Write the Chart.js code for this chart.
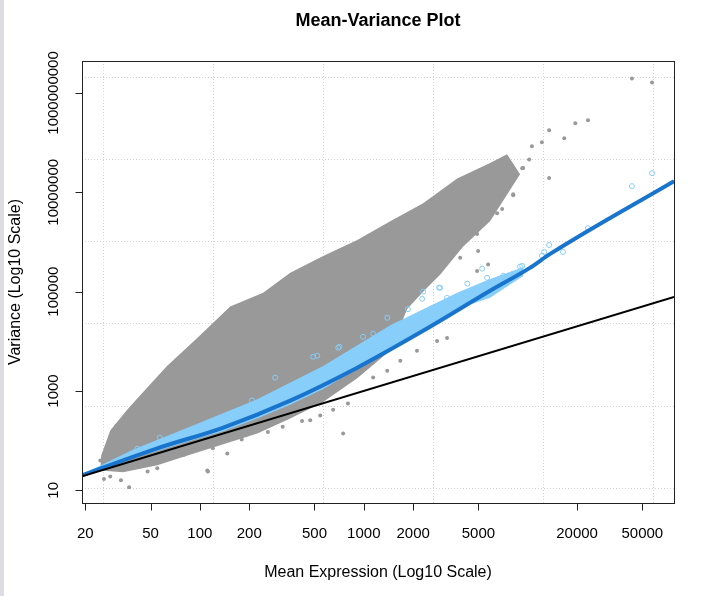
<!DOCTYPE html>
<html>
<head>
<meta charset="utf-8">
<script src="https://cdn.jsdelivr.net/npm/chart.js@4.4.1/dist/chart.umd.min.js"></script>
<style>
  html, body { margin: 0; padding: 0; background: #fff; }
  body { width: 708px; height: 596px; overflow: hidden; border-left: 4px solid #dcdde3; box-sizing: border-box; }
  #wrap { position: absolute; left: 0; top: 0; width: 708px; height: 596px; }
</style>
</head>
<body>
<div id="wrap"><canvas id="mv-chart"></canvas></div>
<script>
// Axis ranges (log10 scale)
const xRange = [19.1, 78000];
const yRange = [5.56, 4.4e9];
const xTickValues = [20, 50, 100, 200, 500, 1000, 2000, 5000, 20000, 50000];
const yTickValues = [10, 1000, 100000, 10000000, 1000000000];
const xGridLog = [1.411, 2.082, 2.752, 3.423, 4.094, 4.765];
const yGridLog = [1.04, 2.70, 4.36, 6.01, 7.67, 9.33];

// Dense gray cloud outline (mean, variance)
const cloudX = [25, 28.4, 36, 43, 63, 96, 153, 243, 356, 565, 912, 1450, 2300, 3710, 5890, 7480,
                8980, 5890, 4030, 2920, 2300, 1840,
                1450, 912, 565, 356, 224, 139, 87, 55, 34, 24.7];
const cloudY = [50, 160, 420, 800, 3200, 11500, 50000, 95000, 240000, 520000, 1.1e6, 2.6e6, 6e6, 1.9e7, 3.9e7, 5.85e7,
                2.32e7, 2.6e6, 8e5, 2.2e5, 1e5, 45000,
                6500, 1800, 600, 280, 140, 85, 52, 32, 23, 25];

// Light blue band outline
const bandX = [21.4, 39, 87, 224, 565, 1450, 3710, 5890, 9380,
               9380, 5890, 3710, 2300, 1450, 912, 565, 356, 224, 139, 87, 55, 34, 21.4];
const bandY = [25, 66, 190, 680, 3200, 21000, 95000, 180000, 310000,
               207000, 75200, 45000, 16000, 7000, 2800, 1100, 530, 280, 155, 98, 62, 39, 22];

// Scattered gray genes
const grayX = [43200, 57300, 23300, 19500, 13500, 16700, 12200, 10600, 13500, 10200, 9250, 8150, 6980, 5730, 5270, 4980, 5730, 4910,
               748, 112, 37, 28.4, 31, 147, 542, 55, 24.7,
               3220, 2800, 2110, 1670, 1390, 1140, 471, 111,
               8150, 6500, 4910, 3870, 9380,
               42, 66, 80, 120, 180, 260, 320, 420, 650, 800, 26, 33, 48];
const grayY = [1.96e9, 1.63e9, 2.82e8, 2.46e8, 1.78e8, 1.23e8, 1.02e8, 8.5e7, 1.93e7, 4.6e7, 3.06e7, 8.7e6, 4.6e6, 3.3e6, 2.2e6, 6.6e5, 3.5e5, 2.6e5,
               140, 24, 11.5, 19, 202, 55, 320, 28, 40,
               11700, 10200, 6450, 4070, 2570, 1860, 257, 25,
               9.1e6, 3.8e6, 1.45e6, 4.8e5, 3.1e7,
               30, 45, 52, 70, 105, 150, 190, 250, 420, 560, 17, 16, 24];

// Light blue open circles
const blueX = [43200, 57300, 23300, 16400, 13500, 12600, 12200, 5270, 9250, 8150, 2300, 2880, 3220,
               520, 288, 698, 990, 1140, 1390, 1860, 2270, 2920, 4280, 5650, 7080, 8980, 208, 139, 57, 41.5, 491, 710];
const blueY = [1.33e7, 2.43e7, 1.9e6, 6.3e5, 8.7e5, 6.3e5, 5.25e5, 2.9e5, 3.3e5, 2.3e5, 1.0e5, 1.2e5, 75000,
               5130, 1860, 7420, 12300, 14200, 29800, 44400, 72000, 1.2e5, 1.45e5, 1.9e5, 2.1e5, 3.2e5, 645, 294, 115, 69, 4900, 7800];

// Fitted trend and Poisson line (variance = mean)
const fitX = [19.1, 21.4, 55, 139, 356, 912, 2300, 5890, 10300, 13700, 78000];
const fitY = [20, 23, 70, 184, 641, 2950, 16300, 104000, 301000, 575000, 1.68e7];
const poisX = [19.1, 78000];
const poisY = [19.1, 78000];

const toPts = (xs, ys) => xs.map((x, i) => ({ x: x, y: ys[i] }));

const fmt = v => String(v);
const FONT = '"Liberation Sans", Arial, sans-serif';

const rPlot = {
    id: 'rPlot',
    beforeDatasetsDraw(chart) {
        const { ctx, chartArea: a, scales: { x, y } } = chart;
        ctx.save();
        // grid
        ctx.strokeStyle = '#d3d3d3';
        ctx.lineWidth = 1;
        ctx.setLineDash([1, 2]);
        xGridLog.forEach(l => {
            const px = Math.round(x.getPixelForValue(Math.pow(10, l))) + 0.5;
            ctx.beginPath(); ctx.moveTo(px, a.top); ctx.lineTo(px, a.bottom); ctx.stroke();
        });
        yGridLog.forEach(l => {
            const py = Math.round(y.getPixelForValue(Math.pow(10, l))) + 0.5;
            ctx.beginPath(); ctx.moveTo(a.left, py); ctx.lineTo(a.right, py); ctx.stroke();
        });
        ctx.setLineDash([]);
        // clip polygons to plot
        ctx.beginPath(); ctx.rect(a.left, a.top, a.right - a.left, a.bottom - a.top); ctx.clip();
        const poly = (xs, ys, color) => {
            ctx.fillStyle = color;
            ctx.beginPath();
            xs.forEach((v, i) => {
                const px = x.getPixelForValue(v), py = y.getPixelForValue(ys[i]);
                if (i === 0) ctx.moveTo(px, py); else ctx.lineTo(px, py);
            });
            ctx.closePath();
            ctx.fill();
        };
        poly(cloudX, cloudY, '#999999');
        poly(bandX, bandY, '#87CEFA');
        ctx.restore();
    },
    afterDraw(chart) {
        const { ctx, chartArea: a, scales: { x, y } } = chart;
        ctx.save();
        // box
        ctx.strokeStyle = '#222';
        ctx.lineWidth = 1;
        ctx.strokeRect(Math.round(a.left) + 0.5, Math.round(a.top) + 0.5,
            Math.round(a.right - a.left), Math.round(a.bottom - a.top));
        // x axis
        ctx.fillStyle = '#000';
        ctx.font = '15px ' + FONT;
        ctx.textAlign = 'center';
        ctx.textBaseline = 'middle';
        const xb = a.bottom + 0.5;
        ctx.beginPath();
        ctx.moveTo(x.getPixelForValue(xTickValues[0]), xb);
        ctx.lineTo(x.getPixelForValue(xTickValues[xTickValues.length - 1]), xb);
        xTickValues.forEach(v => {
            const px = Math.round(x.getPixelForValue(v)) + 0.5;
            ctx.moveTo(px, xb); ctx.lineTo(px, xb + 7);
        });
        ctx.stroke();
        xTickValues.forEach(v => ctx.fillText(fmt(v), x.getPixelForValue(v), a.bottom + 31));
        // y axis
        const yl = Math.round(a.left) + 0.5;
        ctx.beginPath();
        ctx.moveTo(yl, y.getPixelForValue(yTickValues[0]));
        ctx.lineTo(yl, y.getPixelForValue(yTickValues[yTickValues.length - 1]));
        yTickValues.forEach(v => {
            const py = Math.round(y.getPixelForValue(v)) + 0.5;
            ctx.moveTo(yl, py); ctx.lineTo(yl - 7, py);
        });
        ctx.stroke();
        yTickValues.forEach(v => {
            ctx.save();
            ctx.translate(a.left - 28, y.getPixelForValue(v));
            ctx.rotate(-Math.PI / 2);
            ctx.fillText(fmt(v), 0, 0);
            ctx.restore();
        });
        // titles
        const cx = (a.left + a.right) / 2;
        ctx.font = 'bold 18px ' + FONT;
        ctx.fillText('Mean-Variance Plot', cx, 21);
        ctx.font = '16px ' + FONT;
        ctx.fillText('Mean Expression (Log10 Scale)', cx, 573);
        ctx.save();
        ctx.translate(16, (a.top + a.bottom) / 2);
        ctx.rotate(-Math.PI / 2);
        ctx.fillText('Variance (Log10 Scale)', 0, 0);
        ctx.restore();
        ctx.restore();
    }
};

new Chart(document.getElementById('mv-chart'), {
    type: 'scatter',
    data: {
        datasets: [
            {
                label: 'genes',
                data: toPts(grayX, grayY),
                pointRadius: 2,
                pointBackgroundColor: '#999999',
                pointBorderWidth: 0,
                order: 4
            },
            {
                label: 'fitted genes',
                data: toPts(blueX, blueY),
                pointRadius: 2.5,
                pointBackgroundColor: 'rgba(0,0,0,0)',
                pointBorderColor: '#87CEFA',
                pointBorderWidth: 1,
                order: 3
            },
            {
                label: 'trend',
                data: toPts(fitX, fitY),
                showLine: true,
                borderColor: '#1874CD',
                borderWidth: 4,
                pointRadius: 0,
                cubicInterpolationMode: 'monotone',
                order: 2
            },
            {
                label: 'poisson',
                data: toPts(poisX, poisY),
                showLine: true,
                borderColor: '#000000',
                borderWidth: 2,
                pointRadius: 0,
                order: 1
            }
        ]
    },
    options: {
        responsive: true,
        maintainAspectRatio: false,
        animation: false,
        layout: { padding: { left: 82, right: 34, top: 61, bottom: 93 } },
        plugins: {
            legend: { display: false },
            tooltip: { enabled: false }
        },
        scales: {
            x: { type: 'logarithmic', min: xRange[0], max: xRange[1], display: false },
            y: { type: 'logarithmic', min: yRange[0], max: yRange[1], display: false }
        }
    },
    plugins: [rPlot]
});
</script>
</body>
</html>
